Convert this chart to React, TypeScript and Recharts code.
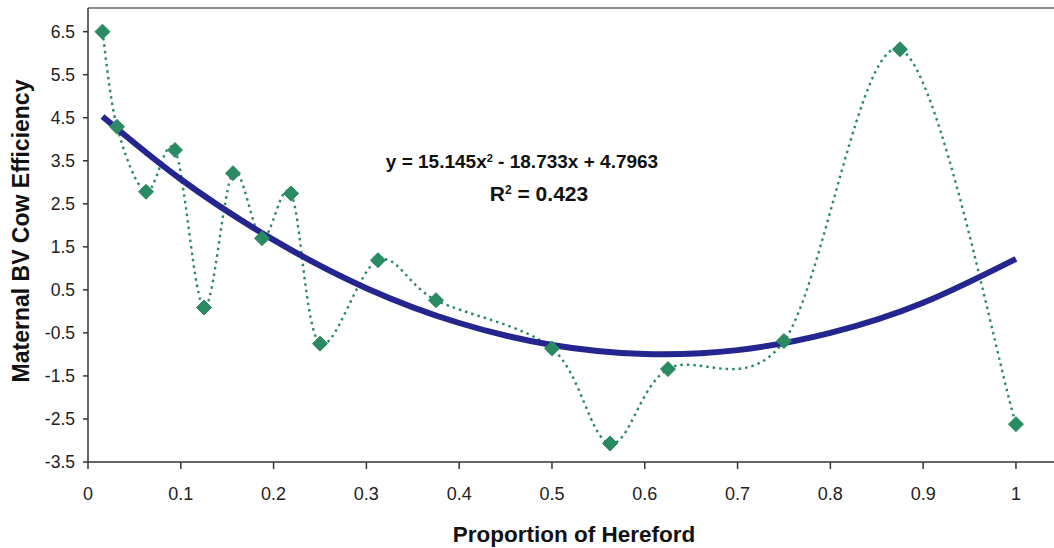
import React from "react";
import { ComposedChart, Line, XAxis, YAxis, ReferenceLine, Label } from "recharts";

// Observed points: proportion of Hereford vs maternal BV cow efficiency
const proportion = [0.0156, 0.03125, 0.0625, 0.09375, 0.125, 0.15625, 0.1875, 0.21875, 0.25, 0.3125, 0.375, 0.5, 0.5625, 0.625, 0.75, 0.875, 1.0];
const efficiency = [6.5, 4.29, 2.78, 3.75, 0.09, 3.21, 1.7, 2.74, -0.75, 1.19, 0.26, -0.86, -3.07, -1.34, -0.69, 6.09, -2.62];

// Polynomial trendline
const trendX = [0.0156, 0.1, 0.2, 0.3, 0.4, 0.5, 0.6, 0.7, 0.8, 0.9, 1.0];
const trendY = [4.53, 3.07, 1.66, 0.54, -0.27, -0.78, -0.99, -0.9, -0.5, 0.2, 1.22];

const xTicks = [0, 0.1, 0.2, 0.3, 0.4, 0.5, 0.6, 0.7, 0.8, 0.9, 1];
const yTicks = [-3.5, -2.5, -1.5, -0.5, 0.5, 1.5, 2.5, 3.5, 4.5, 5.5, 6.5];

const equationText = "y = 15.145x";
const equationRest = " - 18.733x + 4.7963";
const rSquaredValue = " = 0.423";

const points = proportion.map((x, i) => ({ x, y: efficiency[i] }));
const trend = trendX.map((x, i) => ({ x, t: trendY[i] }));

const Y_MAX = 7.05;
const X_MAX = 1.041;

const FONT = "'Liberation Sans', Arial, sans-serif";
const GREEN = "#2a8a62";
const NAVY = "#25258f";

// Excel-like smoothed line (Catmull-Rom style Bezier)
const excelSmooth: any = (context: any) => {
  let pts: [number, number][] = [];
  return {
    areaStart() {},
    areaEnd() {},
    lineStart() {
      pts = [];
    },
    lineEnd() {
      const n = pts.length;
      if (!n) return;
      context.moveTo(pts[0][0], pts[0][1]);
      for (let i = 0; i < n - 1; i++) {
        const p0 = pts[Math.max(i - 1, 0)];
        const p1 = pts[i];
        const p2 = pts[i + 1];
        const p3 = pts[Math.min(i + 2, n - 1)];
        const c1x = p1[0] + (p2[0] - p0[0]) / 6;
        const c1y = p1[1] + (p2[1] - p0[1]) / 6;
        const c2x = p2[0] - (p3[0] - p1[0]) / 6;
        const c2y = p2[1] - (p3[1] - p1[1]) / 6;
        context.bezierCurveTo(c1x, c1y, c2x, c2y, p2[0], p2[1]);
      }
    },
    point(x: number, y: number) {
      pts.push([+x, +y]);
    },
  };
};

const Diamond = (props: any) => {
  const { cx, cy, index } = props;
  if (cx == null || cy == null) return <g key={index} />;
  const r = 7.5;
  return (
    <polygon
      key={index}
      points={`${cx},${cy - r} ${cx + r},${cy} ${cx},${cy + r} ${cx - r},${cy}`}
      fill={GREEN}
      stroke={GREEN}
      strokeWidth={1}
    />
  );
};

const XTick = (props: any) => {
  const { x, y, payload } = props;
  return (
    <text x={x} y={y} dy="0.71em" textAnchor="middle" fill="#222" fontSize={18} fontFamily={FONT}>
      {String(payload.value)}
    </text>
  );
};

const YTick = (props: any) => {
  const { x, y, payload } = props;
  return (
    <text x={x} y={y} dy="0.36em" textAnchor="end" fill="#222" fontSize={17.5} fontFamily={FONT}>
      {String(payload.value)}
    </text>
  );
};

const textBase: React.CSSProperties = {
  position: "absolute",
  fontFamily: FONT,
  fontWeight: "bold",
  fontSize: 19,
  color: "#111",
  whiteSpace: "nowrap",
  transform: "translateX(-50%)",
  lineHeight: "22px",
};

export default function App() {
  return (
    <div style={{ position: "absolute", left: 0, top: 0, width: 1054, height: 548, background: "#fff" }}>
      <ComposedChart
        width={1054}
        height={548}
        margin={{ top: 8, right: 0, bottom: 0, left: 0 }}
      >
        <XAxis
          type="number"
          dataKey="x"
          domain={[0, X_MAX]}
          ticks={xTicks}
          allowDataOverflow
          height={86}
          tickSize={7}
          tickMargin={18}
          stroke="#333"
          strokeWidth={1.5}
          tick={<XTick />}
        >
          <Label
            value="Proportion of Hereford"
            position="insideBottom"
            offset={6}
            dx={3}
            style={{ fontSize: 22.5, fontWeight: "bold", fontFamily: FONT, fill: "#111" }}
          />
        </XAxis>
        <YAxis
          type="number"
          domain={[-3.5, Y_MAX]}
          ticks={yTicks}
          allowDataOverflow
          width={88}
          tickSize={5}
          tickMargin={8}
          stroke="#333"
          strokeWidth={1.5}
          tick={<YTick />}
        >
          <Label
            value="Maternal BV Cow Efficiency"
            angle={-90}
            position="insideLeft"
            offset={21}
            dy={-4}
            style={{ fontSize: 23, fontWeight: "bold", fontFamily: FONT, fill: "#111", textAnchor: "middle" }}
          />
        </YAxis>
        <ReferenceLine y={Y_MAX} stroke="#666" strokeWidth={1.5} ifOverflow="extendDomain" />
        <Line
          data={points}
          dataKey="y"
          type={excelSmooth}
          stroke={GREEN}
          strokeWidth={2.4}
          strokeDasharray="2.5 4"
          dot={Diamond}
          activeDot={false}
          isAnimationActive={false}
        />
        <Line
          data={trend}
          dataKey="t"
          type="natural"
          stroke={NAVY}
          strokeWidth={6}
          dot={false}
          activeDot={false}
          isAnimationActive={false}
        />
      </ComposedChart>
      <div style={{ ...textBase, left: 522, top: 147 }}>
        {equationText}
        <sup style={{ fontSize: 11, verticalAlign: 6 }}>2</sup>
        {equationRest}
      </div>
      <div style={{ ...textBase, left: 539, top: 179, fontSize: 21 }}>
        R<sup style={{ fontSize: 12, verticalAlign: 7 }}>2</sup>
        {rSquaredValue}
      </div>
    </div>
  );
}
